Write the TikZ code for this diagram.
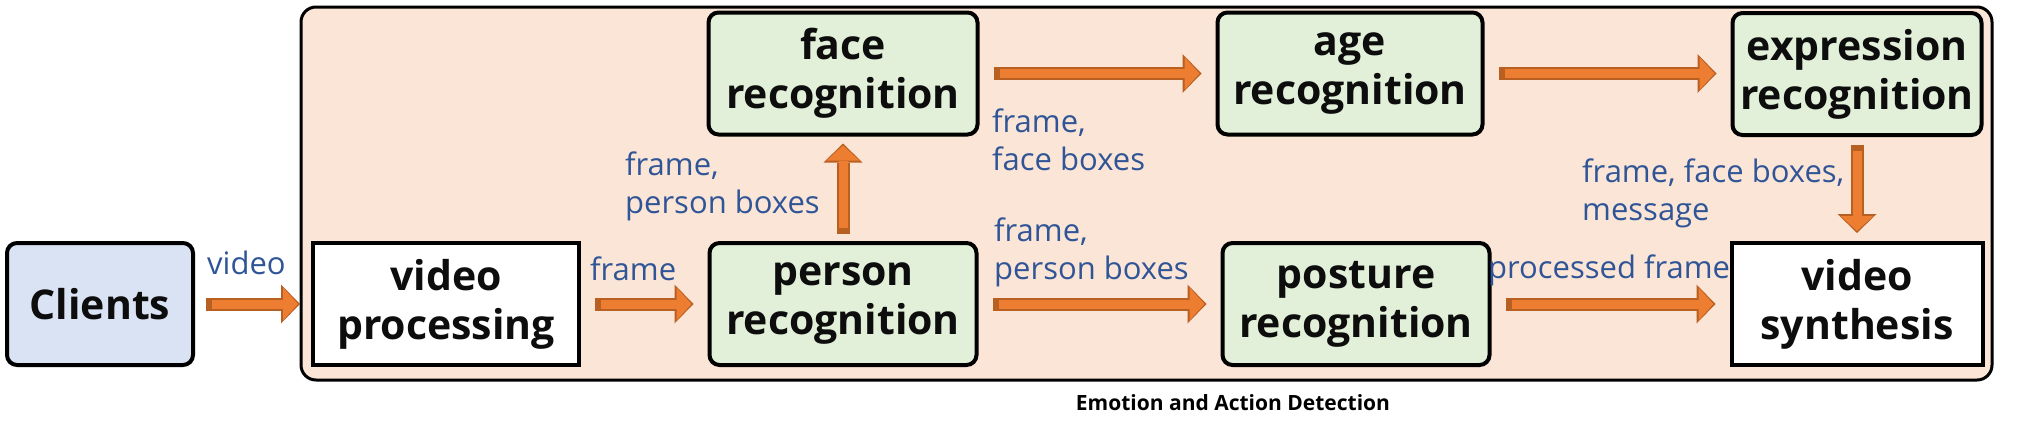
\documentclass[tikz,border=0pt]{standalone}
\usepackage{fontspec}
\setmainfont{Open Sans}
\usetikzlibrary{arrows.meta,positioning}

\definecolor{clientblue}{HTML}{DAE3F3}
\definecolor{recgreen}{HTML}{E2F0D9}
\definecolor{panelpeach}{HTML}{FBE5D6}
\definecolor{flowfill}{HTML}{ED7D31}
\definecolor{flowedge}{HTML}{B85F22}
\definecolor{labelblue}{HTML}{2F5597}

\begin{document}
\begin{tikzpicture}
		[x=1pt, y=-1pt,
		boxsty/.style={draw=black, line width=4pt, align=center, inner sep=0pt,
			minimum width=#1, minimum height=122pt, text=black!95,
			font=\bfseries\fontsize{41}{49}\selectfont},
		recsty/.style={boxsty=#1, fill=recgreen, rounded corners=10pt},
		plainsty/.style={boxsty=#1, fill=white},
		labelsty/.style={text=labelblue, align=left, inner sep=0pt, anchor=west,
			font=\fontsize{31}{38}\selectfont},
		flowsty/.style={draw=flowfill, line width=9pt,
			shorten <=#1+6pt, shorten >=#1+2pt,
			-{Triangle[length=15pt,width=33pt,line width=0pt]},
			preaction={draw=flowedge, line width=13pt, shorten <=#1, shorten >=#1,
				-{Triangle[length=19pt,width=39pt,line width=0pt]}}},
		flowsty/.default=14pt]
		\useasboundingbox (0,0) rectangle (2035,445);
		
		\node (detection) at (1146.5,193.5) [draw, line width=3pt, fill=panelpeach,
			rounded corners=15pt, minimum width=1691pt, minimum height=373pt] {};
		\node (title) at (1233,403) [font=\bfseries\fontsize{21}{25}\selectfont]
			{Emotion and Action Detection};
		
		\node (clients)  at ( 100,304)  [boxsty=186pt, fill=clientblue, rounded corners=10pt] {Clients};
		\node (vproc)    at ( 446,304)  [plainsty=266pt] {video\\processing};
		\node (person rec)  at ( 843,304) [recsty=267pt] {person\\recognition};
		\node (face rec)    at ( 843,73.5) [recsty=269pt] {face\\recognition};
		\node (age rec)     at (1350,73.5) [recsty=265pt] {age\\recognition};
		\node (posture rec) at (1356,304) [recsty=267pt] {posture\\recognition};
		\node (expr rec)    at (1857,74)  [recsty=249pt] {expression\\recognition};
		\node (synth)       at (1857,304) [plainsty=251pt] {video\\synthesis};
		
		\draw[flowsty=11pt] (clients.east) -- (clients.east -| vproc.west);
		\draw[flowsty] (vproc.east) -- (vproc.east -| person rec.west);
		\draw[flowsty=7pt] (person rec) -- (face rec);
		\draw[flowsty] (face rec.east) -- (face rec.east -| age rec.west);
		\draw[flowsty] (age rec.east) -- (age rec.east -| expr rec.west);
		\draw[flowsty] (person rec.east) -- (person rec.east -| posture rec.west);
		\draw[flowsty] (posture rec.east) -- (posture rec.east -| synth.west);
		\draw[flowsty=8pt] (expr rec) -- (synth);
		
		\node (video lbl)   at ( 207,263) [labelsty] {video};
		\node (frame lbl)   at ( 590,269) [labelsty] {frame};
		\node (face lbl)    at ( 625,186) [labelsty] {frame,\\person boxes};
		\node (age lbl)     at ( 992,140) [labelsty] {frame,\\face boxes};
		\node (posture lbl) at ( 994,252) [labelsty] {frame,\\person boxes};
		\node (message lbl) at (1582,193) [labelsty] {frame, face boxes,\\message};
		\node (synth lbl)   at (1488,270) [labelsty] {processed frame};
	\end{tikzpicture}
\end{document}
